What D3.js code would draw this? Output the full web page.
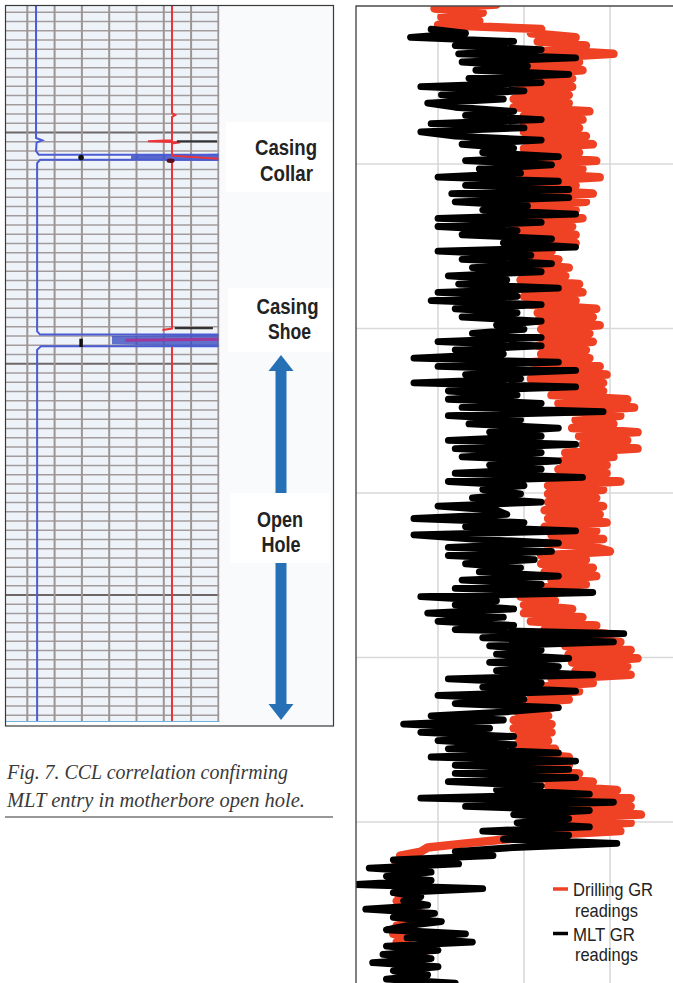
<!DOCTYPE html>
<html><head><meta charset="utf-8">
<script src="https://cdn.jsdelivr.net/npm/d3@7"></script>
<style>html,body{margin:0;padding:0;background:#fff;}svg{display:block;}</style>
</head><body>
<svg id="c" width="673" height="983"></svg>
<script>
// ================= DATA =================
// Right panel: gamma ray logs (GR units) sampled every 2.5 depth units
const grGridValues = [25, 50, 75, 100];
const depthGridValues = [100, 200, 300, 400, 500];
const sampleStep = 2.5;
const mltStartDepth = 18;
const drillStartDepth = 3;
const mltGR = [
 23,33,17,47,30,55,31,65,32,51,
 36,63,34,55,20,50,26,44,22,30,
 47,33,55,23,50,20,30,55,32,47,
 38,60,33,58,37,49,25,60,33,63,
 29,63,30,51,38,65,25,55,25,48,
 32,58,44,65,25,52,32,58,35,55,
 28,45,31,60,25,48,23,55,30,48,
 32,55,42,50,35,55,25,55,30,44,
 18,60,25,65,33,49,18,65,28,48,
 28,55,32,73,28,49,34,60,40,55,
 28,65,30,55,32,60,40,55,30,67,
 28,50,38,49,35,55,25,42,45,18,
 50,33,65,18,35,60,28,58,28,53,
 33,49,37,60,32,55,30,70,20,42,
 30,47,22,44,25,47,30,79,38,76,
 40,55,42,63,40,60,42,70,28,55,
 38,65,25,50,30,60,45,23,44,15,
 40,20,47,25,47,28,60,23,65,30,
 63,30,65,28,55,42,69,20,76,33,
 69,47,63,48,69,38,63,44,77,47,
 30,41,12,31,5,23,10,23,1,38,
 12,20,15,22,4,24,12,26,16,10,
 33,16,35,10,25,9,23,6,25,12,22,10,30
];
const drillingGR = [
 42,24,38,26,37,25,55,52,65,54,
 68,56,76,55,66,50,67,50,64,48,
 64,48,63,47,63,47,69,50,67,50,
 66,50,68,51,70,50,66,52,71,50,
 67,49,72,51,65,49,70,50,68,51,
 65,50,67,49,64,46,65,47,65,48,
 58,47,60,46,63,48,62,49,66,48,
 67,50,65,52,71,54,70,54,72,55,
 69,55,70,54,68,55,69,52,72,53,
 74,52,73,57,73,58,80,60,82,63,
 78,65,76,64,83,66,80,67,83,62,
 76,61,74,60,74,60,78,57,73,57,
 71,57,73,56,72,57,74,56,71,58,
 73,56,71,75,55,68,55,70,56,71,
 58,68,50,60,49,59,50,64,50,67,
 52,71,56,74,60,78,62,81,63,83,
 64,80,65,81,58,70,54,66,52,63,
 47,58,48,57,47,58,47,58,48,57,
 48,59,49,63,50,63,50,66,51,70,
 57,77,59,81,60,81,59,84,58,81,
 58,78,55,45,33,22,20,14,20,13,
 12,17,12,18,12,17,13,18,13,18,
 14,20,14,19,13,18,12,17,13,18,
 15,21,15,20,15,20,15,21,16
];
const legendLabels = [["Drilling GR", "readings"], ["MLT GR", "readings"]];
const legendColors = ["#ef4123", "#000000"];

// Left panel: CCL log (chart columns, chart rows)
const cclColumns = [1, 2, 3, 4, 5, 6, 7, 8];
const cclRowCount = 77;
const cclHeavyRows = [14, 39, 64];
const cclBlue = [
 [[1.32,0.2],[1.32,14.6],[1.55,14.85],[1.34,15.1],[1.32,16.0],[1.42,16.4],[8,16.4]],
 [[8,16.95],[1.47,16.95],[1.36,17.3],[1.36,35.5],[1.47,35.85],[8,35.85]],
 [[8,37.1],[1.5,37.1],[1.36,37.5],[1.36,77.7]]
];
const cclRed = [
 [[6.3,0.2],[6.3,11.9],[6.42,12.1],[6.3,12.3],[6.3,14.85],[5.42,14.95],[6.6,15.05],[6.3,15.2],[6.3,16.5],[8,16.85]],
 [[6.3,17.2],[6.3,35.2],[5.95,35.35]],
 [[6.3,37.2],[6.3,77.7]]
];
const collarBand = [[4.8,16.45],[8,16.3],[8,17.05],[4.8,16.95]];
const shoeBand = [[4.1,36.0],[8,35.85],[8,37.2],[4.1,36.9]];
const shoeMagenta = [[4.6,36.45],[8,36.35]];
const blackTicks = [[[6.48,14.97],[7.95,14.97]], [[6.4,35.15],[7.8,35.15]]];
const collarDot = [2.97, 16.7];
const shoeMark = [[2.97,36.3],[2.97,37.2]];
const annotations = [
 {lines:["Casing","Collar"], widths:[62,53], cx:[286,286.5], base:[155,181]},
 {lines:["Casing","Shoe"], widths:[62,43], cx:[287.5,289.5], base:[314,339]},
 {lines:["Open","Hole"], widths:[46,39], cx:[280,281], base:[527,552]}
];
const captionLines = ["Fig. 7. CCL correlation confirming", "MLT entry in motherbore open hole."];
const captionWidths = [281, 298];

// ================= DRAW =================
const svg = d3.select("#c");

// ---------- Left panel ----------
const lx = d3.scaleLinear().domain([0, 8]).range([0, 218.4]);
const ly = d3.scaleLinear().domain([0, 78]).range([3, 3 + 9.25 * 78]);
const defs = svg.append("defs");
defs.append("clipPath").attr("id","lclip").append("rect")
  .attr("x",5).attr("y",5).attr("width",lx(8)+1-5).attr("height",722-5);
defs.append("clipPath").attr("id","rclip").append("rect")
  .attr("x",356).attr("y",6).attr("width",673-356).attr("height",983-6);

// right part background of left panel
svg.append("rect").attr("x",lx(8)).attr("y",5).attr("width",334-lx(8)).attr("height",721)
  .attr("fill","#f8fafc");
// white label boxes
svg.append("rect").attr("x",226).attr("y",122).attr("width",106).attr("height",70).attr("fill","#fff");
svg.append("rect").attr("x",228).attr("y",288).attr("width",105).attr("height",64).attr("fill","#fff");

const lg = svg.append("g").attr("clip-path","url(#lclip)");
lg.append("rect").attr("x",5).attr("y",5).attr("width",lx(8)-5).attr("height",717).attr("fill","#edf3f8");
const rows = d3.range(1, cclRowCount + 1);
lg.selectAll("line.hr").data(rows).join("line")
  .attr("x1",5).attr("x2",lx(8)+1)
  .attr("y1",d=>ly(d)).attr("y2",d=>ly(d))
  .attr("stroke",d=>cclHeavyRows.includes(d)?"#6f6767":"#a39b9b")
  .attr("stroke-width",d=>cclHeavyRows.includes(d)?2.2:1.6);
lg.selectAll("line.vr").data(cclColumns).join("line")
  .attr("x1",d=>lx(d)).attr("x2",d=>lx(d))
  .attr("y1",5).attr("y2",722)
  .attr("stroke","#9d9595").attr("stroke-width",2);

const lline = d3.line().x(d=>lx(d[0])).y(d=>ly(d[1]));
lg.append("path").attr("d",lline(collarBand)+"Z").attr("fill","#3d4fc4").attr("opacity",0.85);
lg.append("path").attr("d",lline(shoeBand)+"Z").attr("fill","#3b4fc2").attr("opacity",0.8);
lg.append("path").attr("d",lline(shoeMagenta)).attr("stroke","#a0389a").attr("stroke-width",3).attr("fill","none");
cclBlue.forEach(p=>lg.append("path").attr("d",lline(p)).attr("fill","none")
  .attr("stroke","#4b5bd3").attr("stroke-width",2));
cclRed.forEach(p=>lg.append("path").attr("d",lline(p)).attr("fill","none")
  .attr("stroke","#ec3338").attr("stroke-width",2));
blackTicks.forEach(p=>lg.append("path").attr("d",lline(p)).attr("fill","none")
  .attr("stroke","#333").attr("stroke-width",2.2));
lg.append("circle").attr("cx",lx(collarDot[0])).attr("cy",ly(collarDot[1])).attr("r",2.8).attr("fill","#111");
lg.append("ellipse").attr("cx",lx(6.25)).attr("cy",ly(17.05)).attr("rx",4).attr("ry",2.2).attr("fill","#5a1020");
lg.append("path").attr("d",lline(shoeMark)).attr("stroke","#111").attr("stroke-width",3.5);
lg.append("line").attr("x1",5).attr("x2",222).attr("y1",722).attr("y2",722)
  .attr("stroke","#6fb0dc").attr("stroke-width",2);

// blue double arrow
const arrowColor = "#2670b5";
svg.append("rect").attr("x",275.5).attr("y",368).attr("width",11).attr("height",337).attr("fill",arrowColor);
svg.append("path").attr("d","M281,355 L293.5,371 L268.5,371 Z").attr("fill",arrowColor);
svg.append("path").attr("d","M281,720 L293.5,704 L268.5,704 Z").attr("fill",arrowColor);
svg.append("rect").attr("x",230).attr("y",493).attr("width",100).attr("height",70).attr("fill","#fff");

annotations.forEach(a=>{
  a.lines.forEach((t,i)=>{
    svg.append("text").attr("x",a.cx[i]-a.widths[i]/2).attr("y",a.base[i])
      .attr("textLength",a.widths[i]).attr("lengthAdjust","spacingAndGlyphs")
      .attr("font-family","'Liberation Sans', Arial, sans-serif").attr("font-weight","bold")
      .attr("font-size",22).attr("fill","#222").text(t);
  });
});

// left panel border
svg.append("rect").attr("x",5.5).attr("y",5.5).attr("width",328).attr("height",720.5)
  .attr("fill","none").attr("stroke","#3a3a3a").attr("stroke-width",1.2);

// caption
captionLines.forEach((t,i)=>{
  svg.append("text").attr("x",7).attr("y",[779,806.5][i])
    .attr("textLength",captionWidths[i]).attr("lengthAdjust","spacingAndGlyphs")
    .attr("font-family","'Liberation Serif', 'Times New Roman', serif").attr("font-style","italic")
    .attr("font-size",21).attr("fill","#3a3a3a").text(t);
});
svg.append("line").attr("x1",5).attr("x2",333).attr("y1",817).attr("y2",817)
  .attr("stroke","#333").attr("stroke-width",1.2);

// ---------- Right panel ----------
const x = d3.scaleLinear().domain([0, 100]).range([352, 696]);
const y = d3.scaleLinear().domain([0, 600]).range([-0.5, 986.5]);
const rg = svg.append("g").attr("clip-path","url(#rclip)");
rg.selectAll("line.gx").data(grGridValues).join("line")
  .attr("x1",d=>x(d)).attr("x2",d=>x(d)).attr("y1",6).attr("y2",983)
  .attr("stroke","#d9d9d9").attr("stroke-width",1.6);
rg.selectAll("line.gy").data(depthGridValues).join("line")
  .attr("x1",356).attr("x2",673).attr("y1",d=>y(d)).attr("y2",d=>y(d))
  .attr("stroke","#d9d9d9").attr("stroke-width",1.6);

const drillPts = drillingGR.map((v,i)=>({d:drillStartDepth+i*sampleStep, v}));
const mltPts = mltGR.map((v,i)=>({d:mltStartDepth+i*sampleStep, v}));
const logLine = d3.line().x(p=>x(p.v)).y(p=>y(p.d));
rg.append("path").attr("d",logLine(drillPts)).attr("fill","none")
  .attr("stroke",legendColors[0]).attr("stroke-width",8.5)
  .attr("stroke-linejoin","round").attr("stroke-linecap","round");
rg.append("path").attr("d",logLine(mltPts)).attr("fill","none")
  .attr("stroke",legendColors[1]).attr("stroke-width",6.8)
  .attr("stroke-linejoin","round").attr("stroke-linecap","round");

// borders
svg.append("line").attr("x1",356).attr("x2",356).attr("y1",5.5).attr("y2",983).attr("stroke","#4a4a4a").attr("stroke-width",1.4);
svg.append("line").attr("x1",356).attr("x2",673).attr("y1",6).attr("y2",6).attr("stroke","#4a4a4a").attr("stroke-width",1.4);

// legend
const legendTop = [889, 933.5];
const legendWidths = [[80,63],[62,63]];
legendLabels.forEach((lab,i)=>{
  svg.append("line").attr("x1",553).attr("x2",568).attr("y1",legendTop[i]).attr("y2",legendTop[i])
    .attr("stroke",legendColors[i]).attr("stroke-width",3.5);
  lab.forEach((t,j)=>{
    svg.append("text").attr("x", j===0?573:575).attr("y", legendTop[i]+7+j*20.5)
      .attr("textLength",legendWidths[i][j]).attr("lengthAdjust","spacingAndGlyphs")
      .attr("font-family","'Liberation Sans', Arial, sans-serif").attr("font-size",19)
      .attr("fill","#222").text(t);
  });
});
</script>
</body></html>
